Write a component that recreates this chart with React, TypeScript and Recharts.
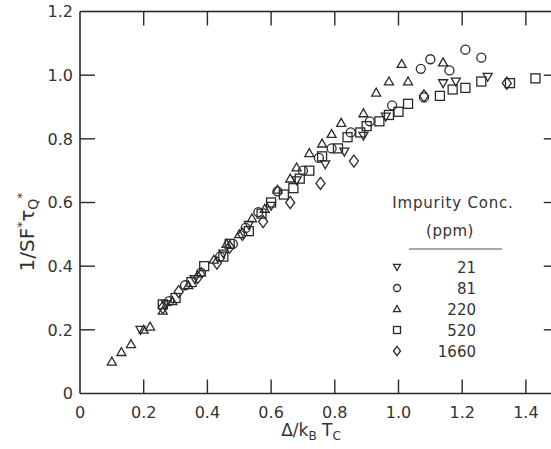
import { ScatterChart, Scatter, XAxis, YAxis } from 'recharts'

const xTicks = [0, 0.2, 0.4, 0.6, 0.8, 1.0, 1.2, 1.4]
const yTicks = [0, 0.2, 0.4, 0.6, 0.8, 1.0, 1.2]

// 21 ppm (inverted triangle)
const ppm21 = [
  { x: 0.19, y: 0.2 }, { x: 0.27, y: 0.28 }, { x: 0.36, y: 0.36 }, { x: 0.45, y: 0.44 },
  { x: 0.53, y: 0.53 }, { x: 0.6, y: 0.59 }, { x: 0.68, y: 0.67 }, { x: 0.77, y: 0.72 },
  { x: 0.83, y: 0.76 }, { x: 0.89, y: 0.81 }, { x: 0.96, y: 0.87 }, { x: 1.14, y: 0.975 },
  { x: 1.18, y: 0.98 }, { x: 1.28, y: 0.995 },
]
// 81 ppm (circle)
const ppm81 = [
  { x: 0.28, y: 0.29 }, { x: 0.33, y: 0.34 }, { x: 0.38, y: 0.38 }, { x: 0.44, y: 0.43 },
  { x: 0.48, y: 0.47 }, { x: 0.52, y: 0.52 }, { x: 0.56, y: 0.57 }, { x: 0.62, y: 0.635 },
  { x: 0.7, y: 0.7 }, { x: 0.75, y: 0.74 }, { x: 0.79, y: 0.77 }, { x: 0.85, y: 0.82 },
  { x: 0.91, y: 0.855 }, { x: 0.98, y: 0.905 }, { x: 1.08, y: 0.93 }, { x: 1.07, y: 1.02 },
  { x: 1.1, y: 1.05 }, { x: 1.16, y: 1.015 }, { x: 1.21, y: 1.08 }, { x: 1.26, y: 1.055 },
]
// 220 ppm (triangle)
const ppm220 = [
  { x: 0.1, y: 0.1 }, { x: 0.13, y: 0.13 }, { x: 0.16, y: 0.155 }, { x: 0.2, y: 0.2 },
  { x: 0.22, y: 0.21 }, { x: 0.26, y: 0.26 }, { x: 0.29, y: 0.29 }, { x: 0.34, y: 0.34 },
  { x: 0.38, y: 0.38 }, { x: 0.42, y: 0.42 }, { x: 0.46, y: 0.47 }, { x: 0.5, y: 0.5 },
  { x: 0.54, y: 0.55 }, { x: 0.58, y: 0.58 }, { x: 0.62, y: 0.64 }, { x: 0.66, y: 0.675 },
  { x: 0.68, y: 0.71 }, { x: 0.72, y: 0.755 }, { x: 0.76, y: 0.785 }, { x: 0.79, y: 0.815 },
  { x: 0.82, y: 0.85 }, { x: 0.89, y: 0.88 }, { x: 0.93, y: 0.945 }, { x: 0.97, y: 0.98 },
  { x: 1.01, y: 1.035 }, { x: 1.03, y: 0.98 }, { x: 1.14, y: 1.04 },
]
// 520 ppm (square)
const ppm520 = [
  { x: 0.26, y: 0.28 }, { x: 0.3, y: 0.3 }, { x: 0.35, y: 0.35 }, { x: 0.39, y: 0.4 },
  { x: 0.45, y: 0.43 }, { x: 0.47, y: 0.47 }, { x: 0.53, y: 0.51 }, { x: 0.57, y: 0.565 },
  { x: 0.6, y: 0.6 }, { x: 0.64, y: 0.625 }, { x: 0.67, y: 0.645 }, { x: 0.69, y: 0.675 },
  { x: 0.72, y: 0.7 }, { x: 0.76, y: 0.745 }, { x: 0.81, y: 0.77 }, { x: 0.84, y: 0.805 },
  { x: 0.88, y: 0.82 }, { x: 0.9, y: 0.84 }, { x: 0.94, y: 0.855 }, { x: 0.97, y: 0.875 },
  { x: 1.0, y: 0.885 }, { x: 1.03, y: 0.91 }, { x: 1.13, y: 0.935 }, { x: 1.17, y: 0.955 },
  { x: 1.21, y: 0.96 }, { x: 1.26, y: 0.98 }, { x: 1.35, y: 0.975 }, { x: 1.43, y: 0.99 },
]
// 1660 ppm (diamond)
const ppm1660 = [
  { x: 0.26, y: 0.27 }, { x: 0.31, y: 0.32 }, { x: 0.37, y: 0.365 }, { x: 0.43, y: 0.41 },
  { x: 0.47, y: 0.46 }, { x: 0.51, y: 0.5 }, { x: 0.575, y: 0.54 }, { x: 0.66, y: 0.6 },
  { x: 0.755, y: 0.66 }, { x: 0.86, y: 0.73 }, { x: 1.08, y: 0.935 }, { x: 1.34, y: 0.975 },
]

const legendRows = ['21', '81', '220', '520', '1660']

const ink = '#2a2a2a'
const font = '"DejaVu Sans", sans-serif'

// plot box, in pixels
const plotTop = 11.5
const plotRight = 557.75
const plotLeft = 80
const tickLen = 14

type Pt = { cx?: number; cy?: number }

const triDown = ({ cx = 0, cy = 0 }: Pt, s = 4.5) => (
  <path d={`M${cx - s},${cy - s * 0.75}L${cx + s},${cy - s * 0.75}L${cx},${cy + s}Z`} fill="none" stroke={ink} strokeWidth={1.3} />
)
const circ = ({ cx = 0, cy = 0 }: Pt, s = 4.5) => (
  <circle cx={cx} cy={cy} r={s} fill="none" stroke={ink} strokeWidth={1.3} />
)
const triUp = ({ cx = 0, cy = 0 }: Pt, s = 4.5) => (
  <path d={`M${cx},${cy - s}L${cx + s},${cy + s * 0.75}L${cx - s},${cy + s * 0.75}Z`} fill="none" stroke={ink} strokeWidth={1.3} />
)
const sq = ({ cx = 0, cy = 0 }: Pt, s = 4.5) => (
  <rect x={cx - s} y={cy - s} width={s * 2} height={s * 2} fill="none" stroke={ink} strokeWidth={1.3} />
)
const diam = ({ cx = 0, cy = 0 }: Pt, s = 4.5) => (
  <path d={`M${cx},${cy - s * 1.35}L${cx + s},${cy}L${cx},${cy + s * 1.35}L${cx - s},${cy}Z`} fill="none" stroke={ink} strokeWidth={1.3} />
)

const legendShapes = [triDown, circ, triUp, sq, diam]

const fmt = (v: number) => (v === 0 ? '0' : v.toFixed(1))

type TickProps = { x?: number; y?: number; payload?: { value: number } }

// bottom label plus the inward ticks on the bottom and top edges
function XTick({ x = 0, y = 0, payload }: TickProps) {
  const v = Number(payload?.value ?? 0)
  const axisY = y - 12
  return (
    <g>
      {v > 0 ? (
        <rect x={x - 0.7} y={axisY - tickLen} width={1.4} height={tickLen} fill={ink} />
      ) : null}
      {v > 0 ? <rect x={x - 0.7} y={plotTop} width={1.4} height={tickLen} fill={ink} /> : null}
      <text x={x} y={y} dy="0.75em" textAnchor="middle" fontSize={16} fill="#333" fontFamily={font}>{fmt(v)}</text>
    </g>
  )
}

// left label plus the inward ticks on the left and right edges; the 1.2 tick carries the top edge
function YTick({ x = 0, y = 0, payload }: TickProps) {
  const v = Number(payload?.value ?? 0)
  const axisX = x + 7
  const inner = v > 0 && v < 1.19
  return (
    <g>
      {inner ? <rect x={axisX} y={y - 0.7} width={tickLen + 1} height={1.4} fill={ink} /> : null}
      {inner ? <rect x={plotRight - tickLen} y={y - 0.7} width={tickLen} height={1.4} fill={ink} /> : null}
      {v >= 1.19 ? <rect x={plotLeft} y={y - 0.8} width={plotRight - plotLeft} height={1.6} fill={ink} /> : null}
      <text x={x} y={y} dy="0.36em" textAnchor="end" fontSize={16} fill="#333" fontFamily={font}>{fmt(v)}</text>
    </g>
  )
}

function Annotations() {
  return (
    <svg width={551} height={449} style={{ position: 'absolute', left: 0, top: 0, pointerEvents: 'none' }}>
      <g fontFamily={font} fill="#333">
        <text transform="translate(34,232) rotate(-90)" textAnchor="middle" fontSize={20}>
          1/SF<tspan dy={-8} fontSize={12}>*</tspan>
          <tspan dy={8}>τ</tspan>
          <tspan dy={4} fontSize={14}>Q</tspan>
          <tspan dy={-12} fontSize={12}>*</tspan>
        </text>
        <text x={311} y={436} textAnchor="middle" fontSize={17}>
          Δ/k<tspan dy={4} fontSize={12}>B</tspan>
          <tspan dy={-4}> T</tspan>
          <tspan dy={4} fontSize={12}>C</tspan>
        </text>
        <text x={453} y={208} textAnchor="middle" fontSize={15} letterSpacing={0.8}>Impurity Conc.</text>
        <text x={450} y={236} textAnchor="middle" fontSize={15} letterSpacing={0.5}>(ppm)</text>
        <line x1={409} x2={502} y1={249} y2={249} stroke="#555" strokeWidth={1.2} />
        {legendRows.map((label, i) => {
          const cy = 267 + i * 21
          return (
            <g key={label}>
              {legendShapes[i]({ cx: 397, cy }, 3.5)}
              <text x={476} y={cy + 5.5} textAnchor="end" fontSize={15}>{label}</text>
            </g>
          )
        })}
      </g>
    </svg>
  )
}

const axisLine = { stroke: ink, strokeWidth: 1.6 }

export default function App() {
  return (
    <div style={{ position: 'absolute', left: 0, top: 0, width: 551, height: 449, overflow: 'hidden', background: '#fff' }}>
      <ScatterChart width={560} height={449} margin={{ top: plotTop, right: 2.25, bottom: 0, left: 0 }}>
        <XAxis
          type="number"
          dataKey="x"
          domain={[0, 1.5]}
          ticks={xTicks}
          height={55.5}
          tickLine={false}
          tickSize={0}
          tickMargin={12}
          axisLine={axisLine}
          tick={XTick}
        />
        <YAxis
          type="number"
          dataKey="y"
          domain={[0, 1.2]}
          ticks={yTicks}
          width={plotLeft}
          tickLine={false}
          tickSize={0}
          tickMargin={7}
          axisLine={axisLine}
          tick={YTick}
        />
        <Scatter name="21" data={ppm21} shape={(p: Pt) => triDown(p)} isAnimationActive={false} />
        <Scatter name="81" data={ppm81} shape={(p: Pt) => circ(p)} isAnimationActive={false} />
        <Scatter name="220" data={ppm220} shape={(p: Pt) => triUp(p)} isAnimationActive={false} />
        <Scatter name="520" data={ppm520} shape={(p: Pt) => sq(p)} isAnimationActive={false} />
        <Scatter name="1660" data={ppm1660} shape={(p: Pt) => diam(p)} isAnimationActive={false} />
      </ScatterChart>
      <Annotations />
    </div>
  )
}
